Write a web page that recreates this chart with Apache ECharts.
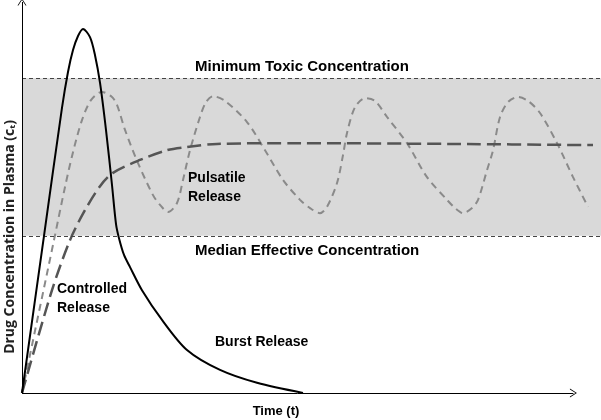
<!DOCTYPE html>
<html>
<head>
<meta charset="utf-8">
<script src="https://cdn.jsdelivr.net/npm/echarts@6/dist/echarts.min.js"></script>
<style>
  html, body { margin: 0; padding: 0; background: #fff; }
  #chart { width: 601px; height: 420px; }
</style>
</head>
<body>
<div id="chart"></div>
<script>
// concentration levels of the therapeutic window
const minToxic = 80.5
const medianEffective = 40.2

// burst release (solid)
const burstT = [0, 3.99, 7.25, 8.34, 9.25, 10.16, 11.06, 12.33, 13.24, 14.15, 15.23, 16.32, 17.05, 17.59, 18.5, 19.59, 21.76, 25.39, 29.92, 35.91, 42.62, 50.96]
const burstC = [0, 40.2, 72.9, 82.1, 87.7, 91.3, 93.1, 91.0, 86.4, 79.3, 67.3, 53.2, 43.2, 39.6, 35.3, 32.2, 26.3, 18.7, 11.0, 5.9, 2.6, 0]

// controlled release (long dash)
const controlledT = [0, 5.44, 8.71, 11.24, 14.15, 16.5, 21.4, 26.3, 29.92, 35.36, 50.42, 77.62, 103.55]
const controlledC = [0, 26.3, 39.1, 46.3, 52.9, 56.3, 59.6, 62.1, 62.9, 63.7, 63.9, 63.7, 63.4]

// pulsatile release (short dash)
const pulsatileT = [0, 5.8, 7.8, 9.25, 10.88, 12.51, 14.51, 16.32, 17.23, 18.68, 21.04, 23.76, 25.03, 26.48,
  28.11, 29.2, 30.47, 32.28, 33.37, 34.64, 36.82, 40.8, 44.07, 47.33, 50.42, 52.23, 54.04,
  55.31, 57.13, 58.22, 58.94, 60.39, 62.21, 64.02, 66.19, 69.82, 73.45, 77.08, 78.53, 79.98,
  81.61, 82.7, 84.33, 85.42, 86.69, 88.14, 89.95, 91.77, 93.94, 97.03, 99.93, 102.65]
const pulsatileC = [0, 39.1, 52.7, 61.6, 69.8, 74.9, 77.0, 75.7, 73.7, 67.3, 58.8, 50.6, 48.1, 46.3,
  48.6, 54.5, 62.1, 70.6, 74.4, 75.9, 74.7, 69.3, 62.1, 54.5, 49.4, 47.3, 46.0,
  47.6, 53.7, 60.9, 66.5, 73.1, 75.4, 74.7, 70.6, 63.9, 55.2, 49.4, 47.3, 46.0,
  47.3, 49.4, 57.0, 62.1, 70.6, 74.4, 75.7, 74.7, 71.6, 63.9, 55.2, 47.6]

const zip = (xs, ys) => xs.map((x, i) => [x, ys[i]])

const chevron = 'path://M0,10 L5,0 L10,10 L9,10 L5,2 L1,10 Z'

function label(id, text, x, y, extra) {
  return {
    type: 'text', id: id, x: x, y: y, z: 100,
    style: Object.assign({
      text: text, verticalAlign: 'middle', fill: '#000',
      fontFamily: '"Liberation Sans", Arial, sans-serif', fontWeight: 'bold', fontSize: 15
    }, extra || {})
  }
}

const chart = echarts.init(document.getElementById('chart'))

chart.setOption({
  animation: false,
  grid: { left: 22, right: 0, top: 2, bottom: 27 },
  xAxis: {
    type: 'value', min: 0, max: 105,
    axisLine: { show: false }, axisTick: { show: false },
    axisLabel: { show: false }, splitLine: { show: false }
  },
  yAxis: {
    type: 'value', min: 0, max: 100,
    axisLine: { show: false }, axisTick: { show: false },
    axisLabel: { show: false }, splitLine: { show: false }
  },
  series: [
    {
      name: 'window',
      type: 'line',
      data: [],
      z: 1,
      silent: true,
      markArea: {
        silent: true,
        itemStyle: { color: '#d9d9d9' },
        data: [[{ yAxis: medianEffective }, { yAxis: minToxic }]]
      },
      markLine: {
        silent: true,
        symbol: ['none', 'none'],
        label: { show: false },
        lineStyle: { color: '#444', width: 1, type: [4, 3] },
        data: [
          { yAxis: minToxic },
          { yAxis: medianEffective },
          [
            { coord: [0, 0], symbol: 'none', lineStyle: { color: '#000', width: 1, type: 'solid' } },
            { coord: [100, 0], symbol: chevron, symbolSize: [9, 7] }
          ],
          [
            { coord: [0, 0], symbol: 'none', lineStyle: { color: '#000', width: 1, type: 'solid' } },
            { coord: [0, 100], symbol: chevron, symbolSize: [9, 7] }
          ]
        ]
      }
    },
    {
      name: 'Pulsatile Release',
      type: 'line',
      smooth: 0.3,
      showSymbol: false,
      z: 3,
      lineStyle: { color: '#8a8a8a', width: 2, type: [7, 5] },
      data: zip(pulsatileT, pulsatileC)
    },
    {
      name: 'Controlled Release',
      type: 'line',
      smooth: 0.3,
      showSymbol: false,
      z: 4,
      lineStyle: { color: '#555', width: 2.5, type: [14, 6] },
      data: zip(controlledT, controlledC)
    },
    {
      name: 'Burst Release',
      type: 'line',
      smooth: 0.3,
      showSymbol: false,
      z: 5,
      lineStyle: { color: '#000', width: 2, type: 'solid' },
      data: zip(burstT, burstC)
    }
  ],
  graphic: [
    label('mtc', 'Minimum Toxic Concentration', 195, 67),
    label('mec', 'Median Effective Concentration', 195, 251),
    label('puls1', 'Pulsatile', 188, 178, { fontSize: 14 }),
    label('puls2', 'Release', 188, 197, { fontSize: 14 }),
    label('ctrl1', 'Controlled', 57, 289, { fontSize: 14 }),
    label('ctrl2', 'Release', 57, 308, { fontSize: 14 }),
    label('burst', 'Burst Release', 215, 342, { fontSize: 14 }),
    label('time', 'Time (t)', 276, 411, { fontSize: 13, align: 'center' }),
    {
      type: 'text', id: 'ylabel', x: 10, y: 237, rotation: Math.PI / 2, z: 100,
      style: {
        text: 'Drug Concentration in Plasma (cₜ)', align: 'center', verticalAlign: 'middle',
        fontFamily: '"Open Sans", "Noto Sans", sans-serif', fontWeight: 'bold', fontSize: 14, fill: '#222'
      }
    }
  ]
})
</script>
</body>
</html>
